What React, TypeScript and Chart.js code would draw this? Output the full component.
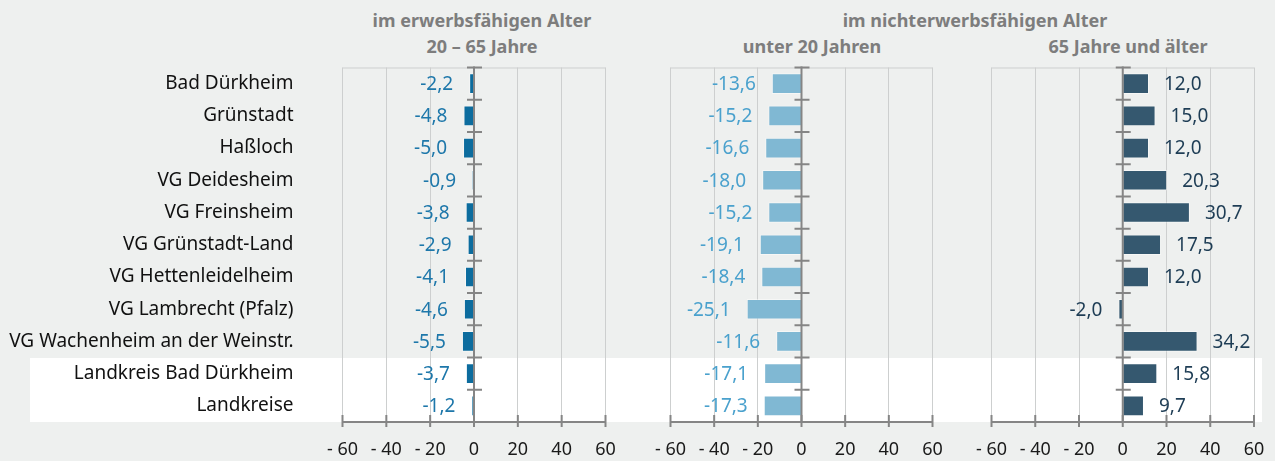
import React, { useEffect, useRef } from 'react';
import { Chart, registerables } from 'chart.js';

Chart.register(...registerables);

const categories = [
  'Bad Dürkheim',
  'Grünstadt',
  'Haßloch',
  'VG Deidesheim',
  'VG Freinsheim',
  'VG Grünstadt-Land',
  'VG Hettenleidelheim',
  'VG Lambrecht (Pfalz)',
  'VG Wachenheim an der Weinstr.',
  'Landkreis Bad Dürkheim',
  'Landkreise',
];
const erwerbsfaehig = [-2.2, -4.8, -5.0, -0.9, -3.8, -2.9, -4.1, -4.6, -5.5, -3.7, -1.2];
const unter20 = [-13.6, -15.2, -16.6, -18.0, -15.2, -19.1, -18.4, -25.1, -11.6, -17.1, -17.3];
const ab65 = [12.0, 15.0, 12.0, 20.3, 30.7, 17.5, 12.0, -2.0, 34.2, 15.8, 9.7];
const xMin = -60;
const xMax = 60;
const xStep = 20;

const FONT = '"Noto Sans", sans-serif';
const BG = '#eef0ef';
const GRID = '#cdcfcf';
const AXIS = '#858585';

type PanelProps = {
  left: number;
  width: number;
  padLeft: number;
  padRight: number;
  values: number[];
  barColor: string;
  labelColor: string;
  showCategories: boolean;
};

const fmt = (v: number) => v.toFixed(1).replace('.', ',');

function Panel(p: PanelProps) {
  const ref = useRef<HTMLCanvasElement | null>(null);
  useEffect(() => {
    const canvas = ref.current!;
    const deco = {
      id: 'deco',
      afterDatasetsDraw(chart: any) {
        const ctx = chart.ctx;
        const { top, bottom, left, right } = chart.chartArea;
        const xs = chart.scales.x;
        const ys = chart.scales.y;
        ctx.save();
        // top border
        ctx.strokeStyle = GRID;
        ctx.lineWidth = 1;
        ctx.beginPath();
        ctx.moveTo(left, top + 0.5);
        ctx.lineTo(right, top + 0.5);
        ctx.stroke();
        // zero line
        const x0 = xs.getPixelForValue(0);
        ctx.strokeStyle = AXIS;
        ctx.lineWidth = 2;
        ctx.beginPath();
        ctx.moveTo(x0, top - 1);
        ctx.lineTo(x0, bottom);
        ctx.stroke();
        // category boundary ticks
        const n = ys.getLabels().length;
        const step = (bottom - top) / n;
        ctx.beginPath();
        for (let i = 0; i < n; i++) {
          const y = ys.getPixelForValue(i) - step / 2;
          ctx.moveTo(x0 - 7, y);
          ctx.lineTo(x0 + 8, y);
        }
        ctx.stroke();
        // x axis line and ticks
        ctx.beginPath();
        ctx.moveTo(left - 1, bottom);
        ctx.lineTo(right + 1, bottom);
        for (let v = xMin; v <= xMax; v += xStep) {
          const x = xs.getPixelForValue(v);
          ctx.moveTo(x, bottom - 7);
          ctx.lineTo(x, bottom + 5);
        }
        ctx.stroke();
        // data labels
        const meta = chart.getDatasetMeta(0);
        ctx.font = '19px ' + FONT;
        ctx.fillStyle = p.labelColor;
        ctx.textBaseline = 'middle';
        meta.data.forEach((el: any, i: number) => {
          const v = p.values[i];
          const { x, y } = el.getProps(['x', 'y'], true);
          if (v < 0) {
            ctx.textAlign = 'right';
            ctx.fillText(fmt(v), x - 16, y + 1);
          } else {
            ctx.textAlign = 'left';
            ctx.fillText(fmt(v), x + 15, y + 1);
          }
        });
        ctx.restore();
      },
    };
    const chart = new Chart(canvas, {
      type: 'bar',
      data: {
        labels: categories,
        datasets: [
          {
            data: p.values,
            backgroundColor: p.barColor,
            borderColor: 'rgba(255,255,255,0.45)',
            borderWidth: 1,
            barPercentage: 0.64,
            categoryPercentage: 1,
          },
        ],
      },
      options: {
        indexAxis: 'y',
        responsive: false,
        animation: false,
        devicePixelRatio: 1,
        layout: { padding: { top: 67.5, bottom: 0, left: p.padLeft, right: p.padRight } },
        plugins: { legend: { display: false }, tooltip: { enabled: false } },
        scales: {
          x: {
            type: 'linear',
            position: 'bottom',
            min: xMin,
            max: xMax,
            grid: { color: GRID, lineWidth: 1, drawTicks: false },
            border: { display: false },
            ticks: {
              stepSize: xStep,
              autoSkip: false,
              maxRotation: 0,
              padding: 17,
              color: '#1a1a1a',
              font: { family: FONT, size: 18 },
              callback: (v: any) => (Number(v) < 0 ? '- ' + Math.abs(Number(v)) : String(v)),
            },
            afterFit: (s: any) => {
              s.height = 39;
              s.paddingLeft = 0;
              s.paddingRight = 0;
              s.paddingTop = 0;
              s.paddingBottom = 0;
            },
          },
          y: {
            type: 'category',
            display: p.showCategories,
            grid: { display: false, drawTicks: false },
            border: { display: false },
            ticks: {
              padding: 49,
              color: '#111111',
              font: { family: FONT, size: 19 },
            },
            afterFit: (s: any) => {
              if (p.showCategories) s.width = 342.5;
              s.paddingLeft = 0;
              s.paddingRight = 0;
              s.paddingTop = 0;
              s.paddingBottom = 0;
            },
          },
        },
      },
      plugins: [deco],
    } as any);
    return () => chart.destroy();
  }, []);
  return (
    <canvas
      ref={ref}
      width={p.width}
      height={461}
      style={{ position: 'absolute', left: p.left, top: 0, width: p.width, height: 461 }}
    />
  );
}

const titleStyle: React.CSSProperties = {
  position: 'absolute',
  width: 400,
  textAlign: 'center',
  font: 'bold 18px ' + FONT,
  color: '#7d7d7d',
  lineHeight: '24px',
  whiteSpace: 'nowrap',
};

export default function App() {
  return (
    <div
      style={{
        position: 'absolute',
        left: 0,
        top: 0,
        width: 1275,
        height: 461,
        background: BG,
        overflow: 'hidden',
      }}
    >
      <div style={{ position: 'absolute', left: 30, top: 358, width: 1232, height: 64, background: '#ffffff' }} />
      <div style={{ ...titleStyle, left: 482 - 200, top: 8 }}>im erwerbsfähigen Alter</div>
      <div style={{ ...titleStyle, left: 482 - 200, top: 34 }}>20 – 65 Jahre</div>
      <div style={{ ...titleStyle, left: 975 - 200, top: 8 }}>im nichterwerbsfähigen Alter</div>
      <div style={{ ...titleStyle, left: 812 - 200, top: 34 }}>unter 20 Jahren</div>
      <div style={{ ...titleStyle, left: 1128 - 200, top: 34 }}>65 Jahre und älter</div>
      <Panel
        left={0}
        width={620}
        padLeft={0}
        padRight={14.5}
        values={erwerbsfaehig}
        barColor="#0c6c9e"
        labelColor="#1d77aa"
        showCategories={true}
      />
      <Panel
        left={620}
        width={330}
        padLeft={50.5}
        padRight={17.5}
        values={unter20}
        barColor="#80b8d3"
        labelColor="#4aa1cd"
        showCategories={false}
      />
      <Panel
        left={950}
        width={325}
        padLeft={41.5}
        padRight={21}
        values={ab65}
        barColor="#35586f"
        labelColor="#1e3d55"
        showCategories={false}
      />
    </div>
  );
}
